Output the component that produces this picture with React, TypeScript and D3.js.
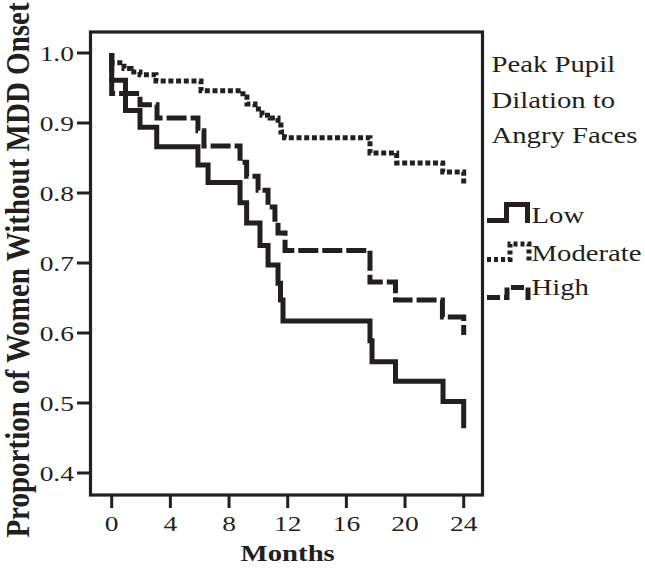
import React from "react";
import * as d3 from "d3";

const width = 645;
const height = 570;
const ink = "#231f20";
// the source picture is stretched sideways, so text is widened to match
const stretch = 1.25;

const monthTicks = [0, 4, 8, 12, 16, 20, 24];
const propTicks = [0.4, 0.5, 0.6, 0.7, 0.8, 0.9, 1.0];

const legendTitle = ["Peak Pupil", "Dilation to", "Angry Faces"];

// step points: value holds from this month until the next one
const lowMonths = [0, 0, 0.94, 1.93, 3.07, 5.88, 6.57, 8.75, 9.2, 10.11, 10.66, 11.34, 11.51, 11.68, 17.61, 17.75, 19.35, 22.59, 24];
const lowProps = [1.0, 0.961, 0.918, 0.894, 0.866, 0.84, 0.815, 0.786, 0.757, 0.725, 0.697, 0.671, 0.647, 0.617, 0.589, 0.559, 0.531, 0.502, 0.464];

const modMonths = [0, 0, 0.84, 1.32, 1.93, 3.02, 6.09, 8.95, 9.22, 9.77, 10.25, 10.8, 11.34, 11.54, 11.78, 17.61, 19.43, 22.57, 24];
const modProps = [1.0, 0.986, 0.978, 0.973, 0.969, 0.96, 0.946, 0.937, 0.927, 0.92, 0.911, 0.907, 0.897, 0.887, 0.879, 0.857, 0.843, 0.83, 0.811];

const highMonths = [0, 0, 1.93, 3.09, 5.88, 6.29, 8.75, 9.2, 9.98, 10.66, 11.13, 11.34, 11.82, 17.61, 19.35, 22.55, 24];
const highProps = [1.0, 0.942, 0.926, 0.907, 0.889, 0.867, 0.844, 0.824, 0.804, 0.78, 0.754, 0.743, 0.718, 0.673, 0.647, 0.623, 0.597];

const groups = [
  { name: "Low", months: lowMonths, props: lowProps, dash: null },
  { name: "Moderate", months: modMonths, props: modProps, dash: "5,2.7" },
  { name: "High", months: highMonths, props: highProps, dash: "20,4" },
];

const x = d3.scaleLinear().domain([0, 24]).range([111.7, 463.7]);
const y = d3.scaleLinear().domain([0.4, 1.0]).range([473, 53]);

const frame = { left: 90.5, right: 482.5, top: 32, bottom: 495 };

const stepLine = d3
  .line<[number, number]>()
  .x((d) => x(d[0]))
  .y((d) => y(d[1]))
  .curve(d3.curveStepAfter);

// little step glyphs for the legend, drawn relative to each row
const glyphs: Record<string, string> = {
  Low: "M0,0 H19.5 V-16 H40.5 V2.5",
  Moderate: "M0,0 H23 V-15.5 H42 V2.5",
  High: "M0,0 H20 V-10 H41 V2.5",
};
const legendRows = [
  { name: "Low", gy: 220.5, ty: 223 },
  { name: "Moderate", gy: 259.5, ty: 261 },
  { name: "High", gy: 297.5, ty: 295 },
];

const serif = "'Liberation Serif', 'Times New Roman', serif";

export default function App() {
  return (
    <svg
      width={width}
      height={height}
      style={{ position: "absolute", left: 0, top: 0, background: "#fff" }}
      fontFamily={serif}
    >
      <rect width={width} height={height} fill="#fff" />

      {/* frame */}
      <rect
        x={frame.left}
        y={frame.top}
        width={frame.right - frame.left}
        height={frame.bottom - frame.top}
        fill="none"
        stroke={ink}
        strokeWidth={3.2}
      />

      {/* y ticks */}
      {propTicks.map((t) => (
        <g key={"y" + t}>
          <line x1={77} x2={frame.left} y1={y(t)} y2={y(t)} stroke={ink} strokeWidth={3} />
          <text
            transform={`translate(74,${y(t) + 8}) scale(${stretch},1)`}
            textAnchor="end"
            fontSize={22}
            fill={ink}
          >
            {t.toFixed(1)}
          </text>
        </g>
      ))}

      {/* x ticks */}
      {monthTicks.map((t) => (
        <g key={"x" + t}>
          <line x1={x(t)} x2={x(t)} y1={frame.bottom} y2={508} stroke={ink} strokeWidth={3} />
          <text
            transform={`translate(${x(t)},531) scale(${stretch},1)`}
            textAnchor="middle"
            fontSize={22}
            fill={ink}
          >
            {t}
          </text>
        </g>
      ))}

      <text
        transform={`translate(${x(12)},561) scale(${stretch},1)`}
        textAnchor="middle"
        fontSize={23}
        fontWeight="bold"
        fill={ink}
      >
        Months
      </text>

      <text
        transform={`translate(28.5,270) rotate(-90) scale(1,1.15)`}
        textAnchor="middle"
        fontSize={29}
        fontWeight="bold"
        fill={ink}
      >
        Proportion of Women Without MDD Onset
      </text>

      {/* survival curves */}
      {groups.map((g) => (
        <path
          key={g.name}
          d={stepLine(g.months.map((m, i) => [m, g.props[i]] as [number, number])) || ""}
          fill="none"
          stroke={ink}
          strokeWidth={5}
          strokeLinejoin="miter"
          strokeLinecap="butt"
          strokeDasharray={g.dash || undefined}
        />
      ))}

      {/* legend */}
      {legendTitle.map((s, i) => (
        <text
          key={s}
          transform={`translate(491.5,${72 + i * 35.5}) scale(${stretch},1)`}
          fontSize={23}
          fill={ink}
        >
          {s}
        </text>
      ))}
      {legendRows.map((r) => {
        const g = groups.find((d) => d.name === r.name)!;
        return (
          <g key={r.name}>
            <path
              transform={`translate(487,${r.gy})`}
              d={glyphs[r.name]}
              fill="none"
              stroke={ink}
              strokeWidth={5}
              strokeDasharray={g.dash ? (r.name === "High" ? "13,4" : "4,3") : undefined}
            />
            <text
              transform={`translate(531.5,${r.ty}) scale(${stretch},1)`}
              fontSize={23}
              fill={ink}
            >
              {r.name}
            </text>
          </g>
        );
      })}
    </svg>
  );
}
